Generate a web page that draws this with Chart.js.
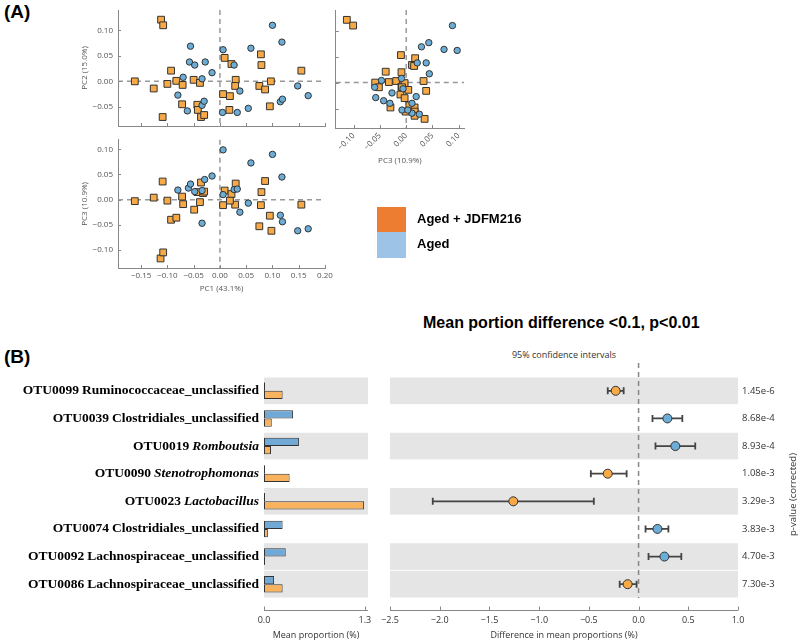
<!DOCTYPE html>
<html>
<head>
<meta charset="utf-8">
<script src="https://cdn.jsdelivr.net/npm/chart.js@4.4.0/dist/chart.umd.min.js"></script>
<style>
  body { margin: 0; width: 799px; height: 643px; position: relative; background: #fff; overflow: hidden; }
  canvas { position: absolute; }
  .txt { position: absolute; white-space: nowrap; color: #000; }
  .box { position: absolute; width: 29px; }
</style>
</head>
<body>
<div class="txt" style="left:4px;top:1px;font:bold 19px 'Liberation Sans',Arial,sans-serif;">(A)</div>
<div class="txt" style="left:4px;top:346px;font:bold 19px 'Liberation Sans',Arial,sans-serif;">(B)</div>

<canvas id="pc12" width="275" height="140" style="left:70px;top:0px"></canvas>
<canvas id="pc32" width="140" height="170" style="left:330px;top:0px"></canvas>
<canvas id="pc13" width="275" height="170" style="left:70px;top:130px"></canvas>

<div class="box" style="left:377px;top:207px;height:25px;background:#ED7D31"></div>
<div class="box" style="left:377px;top:232px;height:26px;background:#9DC3E6"></div>
<div class="txt" style="left:417px;top:211px;font:bold 13px 'Liberation Sans',Arial,sans-serif;">Aged + JDFM216</div>
<div class="txt" style="left:417px;top:236px;font:bold 13px 'Liberation Sans',Arial,sans-serif;">Aged</div>

<div class="txt" style="left:423px;top:313px;font:bold 16px/20px 'Liberation Sans',Arial,sans-serif;">Mean portion difference &lt;0.1, p&lt;0.01</div>
<div class="txt" style="left:414px;width:300px;text-align:center;top:349px;font:9px/12px 'Open Sans',sans-serif;color:#333;">95% confidence intervals</div>

<canvas id="bars" width="375" height="278" style="left:0px;top:365px"></canvas>
<canvas id="diff" width="429" height="303" style="left:370px;top:340px"></canvas>

<script>
// ---- panel A: PCoA coordinates, [x, y] per sample ----
const groups = ['Aged + JDFM216', 'Aged'];

const pc1pc2Treated = [
  [-0.162, 0.000], [-0.126, -0.014], [-0.100, -0.005], [-0.109, -0.070], [-0.112, 0.121],
  [-0.108, 0.110], [-0.093, 0.021], [-0.083, 0.001], [-0.072, -0.045], [-0.071, -0.007],
  [-0.050, 0.003], [-0.043, -0.046], [-0.042, -0.056], [-0.038, -0.003], [-0.036, -0.070],
  [-0.030, -0.066], [0.009, 0.046], [0.022, 0.034], [0.030, 0.003], [0.029, -0.009],
  [0.006, -0.025], [0.019, -0.029], [0.018, -0.056], [0.078, 0.053], [0.079, 0.032],
  [0.075, -0.009], [0.086, -0.016], [0.097, 0.000], [0.095, -0.049], [0.155, 0.021]
];
const pc1pc2Aged = [
  [-0.056, 0.069], [-0.058, 0.038], [-0.048, 0.032], [-0.028, 0.038], [-0.015, 0.017],
  [-0.070, 0.008], [-0.034, 0.005], [-0.080, -0.027], [-0.062, -0.058], [-0.034, -0.047],
  [-0.030, -0.039], [0.006, 0.062], [0.027, 0.032], [0.038, -0.019], [0.005, -0.061],
  [0.033, -0.061], [0.054, -0.053], [0.059, 0.065], [0.100, 0.110], [0.118, 0.077],
  [0.115, -0.040], [0.119, -0.035], [0.148, -0.009], [0.168, -0.028]
];

const pc3pc2Treated = [
  [-0.113, 0.121], [-0.101, 0.110], [-0.010, 0.053], [0.017, 0.047], [0.011, 0.034],
  [0.015, 0.032], [-0.039, 0.021], [-0.009, 0.020], [-0.059, 0.000], [-0.052, -0.009],
  [-0.033, 0.001], [-0.019, 0.003], [-0.009, -0.008], [-0.003, -0.001], [0.004, -0.014],
  [-0.011, -0.023], [-0.003, -0.030], [0.033, 0.003], [0.038, -0.016], [-0.030, -0.048],
  [0.006, -0.044], [0.016, -0.048], [0.016, -0.056], [0.016, -0.064], [-0.001, -0.056],
  [0.035, -0.070], [-0.008, -0.009]
];
const pc3pc2Aged = [
  [0.088, 0.110], [0.029, 0.069], [0.043, 0.077], [0.072, 0.064], [0.097, 0.062],
  [0.021, 0.038], [0.038, 0.038], [0.044, 0.017], [-0.047, 0.004], [-0.060, -0.009],
  [-0.009, 0.008], [-0.027, -0.020], [0.019, -0.027], [-0.058, -0.029], [-0.043, -0.035],
  [-0.031, -0.040], [-0.008, -0.053], [0.011, -0.040], [0.011, -0.059], [0.025, -0.061],
  [0.003, -0.053], [-0.006, -0.012]
];

const pc1pc3Treated = [
  [-0.162, -0.003], [-0.126, 0.004], [-0.100, -0.002], [-0.109, 0.036], [-0.113, -0.117],
  [-0.108, -0.105], [-0.093, -0.040], [-0.083, -0.036], [-0.072, 0.006], [-0.070, -0.009],
  [-0.049, -0.020], [-0.043, 0.015], [-0.032, 0.013], [-0.038, -0.005], [-0.036, 0.034],
  [-0.030, 0.016], [0.009, 0.018], [0.022, 0.011], [0.030, 0.032], [0.029, -0.010],
  [0.006, -0.011], [0.019, -0.002], [0.078, -0.011], [0.079, 0.015], [0.075, -0.053],
  [0.086, 0.037], [0.098, -0.062], [0.095, -0.032], [0.155, -0.010]
];
const pc1pc3Aged = [
  [-0.080, 0.019], [-0.060, 0.023], [-0.056, 0.031], [-0.048, 0.016], [-0.029, 0.040],
  [-0.015, 0.047], [-0.034, 0.018], [-0.034, -0.047], [0.006, 0.099], [0.006, 0.010],
  [0.027, 0.020], [0.033, 0.021], [0.038, -0.025], [0.054, -0.007], [0.059, 0.073],
  [0.100, 0.090], [0.118, 0.045], [0.115, -0.031], [0.119, -0.044], [0.148, -0.062],
  [0.168, -0.058]
];

// ---- panel B: extended error bar plot ----
const otuIds = ['OTU0099', 'OTU0039', 'OTU0019', 'OTU0090', 'OTU0023', 'OTU0074', 'OTU0092', 'OTU0086'];
const taxa = ['Ruminococcaceae_unclassified', 'Clostridiales_unclassified', 'Romboutsia', 'Stenotrophomonas',
  'Lactobacillus', 'Clostridiales_unclassified', 'Lachnospiraceae_unclassified', 'Lachnospiraceae_unclassified'];
const isGenus = [false, false, true, true, true, false, false, false];
const meanAged = [0, 0.375, 0.45, 0, 0, 0.24, 0.28, 0.13];
const meanTreated = [0.24, 0.10, 0.09, 0.33, 1.29, 0.05, 0, 0.24];
const diffMean = [-0.23, 0.29, 0.37, -0.31, -1.26, 0.19, 0.26, -0.11];
const ciLow = [-0.31, 0.14, 0.17, -0.48, -2.07, 0.07, 0.10, -0.19];
const ciHigh = [-0.15, 0.44, 0.57, -0.12, -0.45, 0.30, 0.43, -0.02];
const pValues = ['1.45e-6', '8.68e-4', '8.93e-4', '1.08e-3', '3.29e-3', '3.83e-3', '4.70e-3', '7.30e-3'];
const shadedRows = [true, false, true, false, true, false, true, true];
const barTicks = [0, 1.3];

// colours
const ORANGE_PT = '#f6a945';
const BLUE_PT = '#6badd6';
const ORANGE_BAR = '#f9b25e';
const BLUE_BAR = '#70a8d6';
const SMALL_FONT = { family: "'Open Sans', sans-serif", size: 8 };
const B_FONT = { family: "'Open Sans', sans-serif", size: 9 };

const minus = s => s.replace('-', '\u2212');
const fmt2 = v => Math.abs(v) < 1e-9 ? '0.00' : minus(v.toFixed(2));
const toPts = pairs => pairs.map(([x, y]) => ({ x, y }));

// keep the x axis from widening the chart area for its end labels
const noSidePad = s => { s.paddingLeft = 0; s.paddingRight = 0; };

// dashed zero lines + inward tick marks for the PCoA panels
const pcoaGuides = {
  id: 'pcoaGuides',
  beforeDatasetsDraw(chart) {
    const { ctx, chartArea: a, scales: { x, y } } = chart;
    const x0 = x.getPixelForValue(0), y0 = y.getPixelForValue(0);
    ctx.save();
    ctx.strokeStyle = '#999';
    ctx.lineWidth = 1.5;
    ctx.setLineDash([5, 4]);
    ctx.beginPath();
    ctx.moveTo(x0, a.top); ctx.lineTo(x0, a.bottom);
    ctx.moveTo(a.left, y0); ctx.lineTo(a.right, y0);
    ctx.stroke();
    ctx.setLineDash([]);
    ctx.lineWidth = 1;
    ctx.strokeStyle = '#888';
    ctx.beginPath();
    x.ticks.forEach(t => {
      const px = Math.round(x.getPixelForValue(t.value)) + 0.5;
      ctx.moveTo(px, a.bottom); ctx.lineTo(px, a.bottom - 3);
    });
    y.ticks.forEach(t => {
      const py = Math.round(y.getPixelForValue(t.value)) + 0.5;
      ctx.moveTo(a.left, py); ctx.lineTo(a.left + 3, py);
    });
    ctx.stroke();
    ctx.restore();
  }
};

function pcoaChart(id, treated, aged, c) {
  const axis = (min, max, showTicks, title, size, isX) => ({
    min, max,
    afterFit: s => { if (isX) { s.height = size; noSidePad(s); } else s.width = size; },
    grid: { display: false, drawTicks: false },
    border: { color: '#888' },
    ticks: {
      display: showTicks, stepSize: 0.05, includeBounds: false, font: SMALL_FONT, color: '#555',
      padding: isX ? 3 : 5, autoSkip: false,
      maxRotation: isX && c.rotate ? 45 : 0, minRotation: isX && c.rotate ? 45 : 0,
      callback: v => fmt2(v)
    },
    title: {
      display: !!title, text: title, font: SMALL_FONT, color: '#555',
      padding: isX ? { top: 0, bottom: c.xTitlePad || 0 } : { top: 10, bottom: 0 }
    }
  });
  new Chart(document.getElementById(id), {
    type: 'scatter',
    data: {
      datasets: [
        { label: groups[1], data: toPts(aged), pointStyle: 'circle', pointRadius: 3.2,
          backgroundColor: BLUE_PT, borderColor: '#333', borderWidth: 1 },
        { label: groups[0], data: toPts(treated), pointStyle: 'rect', pointRadius: 4.8,
          backgroundColor: ORANGE_PT, borderColor: '#333', borderWidth: 1 }
      ]
    },
    options: {
      responsive: false,
      animation: false,
      layout: { padding: c.padding },
      plugins: { legend: { display: false }, tooltip: { enabled: false } },
      scales: {
        x: axis(c.x[0], c.x[1], c.xTicks, c.xTitle, c.xSize, true),
        y: axis(c.y[0], c.y[1], c.yTicks, c.yTitle, c.ySize, false)
      }
    },
    plugins: [pcoaGuides]
  });
}

pcoaChart('pc12', pc1pc2Treated, pc1pc2Aged, {
  x: [-0.194, 0.20], y: [-0.0876, 0.14], xTicks: false, yTicks: true,
  yTitle: 'PC2 (15.0%)', xSize: 14, ySize: 48, padding: { top: 10, right: 20 }
});
pcoaChart('pc32', pc3pc2Treated, pc3pc2Aged, {
  x: [-0.134, 0.11], y: [-0.0876, 0.14], xTicks: true, yTicks: false, rotate: true,
  xTitle: 'PC3 (10.9%)', xTitlePad: 4, xSize: 42, ySize: 5, padding: { top: 10, right: 6 }
});
pcoaChart('pc13', pc1pc3Treated, pc1pc3Aged, {
  x: [-0.194, 0.20], y: [-0.136, 0.119], xTicks: true, yTicks: true,
  xTitle: 'PC1 (43.1%)', xTitlePad: 6, yTitle: 'PC3 (10.9%)', xSize: 32, ySize: 48,
  padding: { top: 7, right: 20 }
});

// ---- panel B plugins ----
const rowBands = {
  id: 'rowBands',
  beforeDatasetsDraw(chart) {
    const { ctx, chartArea: a, scales: { y } } = chart;
    const step = (a.bottom - a.top) / otuIds.length;
    ctx.save();
    ctx.fillStyle = '#e5e5e5';
    shadedRows.forEach((on, i) => {
      if (!on) return;
      const c = y.getPixelForValue(i);
      ctx.fillRect(a.left, c - step / 2 + 0.5, a.right - a.left, step - 1);
    });
    ctx.restore();
  }
};

const offsetAxis = {
  id: 'offsetAxis',
  afterDraw(chart) {
    const { ctx, chartArea: a, scales: { x } } = chart;
    const yy = Math.round(a.bottom + 12) + 0.5;
    ctx.save();
    ctx.strokeStyle = '#888';
    ctx.lineWidth = 1;
    ctx.beginPath();
    ctx.moveTo(a.left, yy); ctx.lineTo(a.right, yy);
    x.ticks.forEach(t => {
      const px = Math.round(x.getPixelForValue(t.value)) + 0.5;
      ctx.moveTo(px, yy); ctx.lineTo(px, yy - 4);
    });
    ctx.stroke();
    ctx.restore();
  }
};

// row labels (genus names in italics) and the base line of empty bars
const otuLabels = {
  id: 'otuLabels',
  afterDraw(chart) {
    const { ctx, chartArea: a, scales: { y } } = chart;
    const right = a.left - 5;
    ctx.save();
    ctx.strokeStyle = '#333';
    ctx.lineWidth = 1;
    ctx.beginPath();
    chart.data.datasets.forEach((ds, d) => {
      chart.getDatasetMeta(d).data.forEach((el, i) => {
        if (ds.data[i] !== 0) return;
        const { base, y: cy, height } = el.getProps(['base', 'y', 'height'], true);
        ctx.moveTo(Math.round(base) + 0.5, cy - height / 2);
        ctx.lineTo(Math.round(base) + 0.5, cy + height / 2);
      });
    });
    ctx.stroke();
    ctx.fillStyle = '#000';
    ctx.textBaseline = 'middle';
    ctx.textAlign = 'left';
    otuIds.forEach((id, i) => {
      const py = y.getPixelForValue(i);
      ctx.font = (isGenus[i] ? 'italic ' : '') + "bold 13.5px 'Liberation Serif', 'Times New Roman', serif";
      const nw = ctx.measureText(taxa[i]).width;
      ctx.fillText(taxa[i], right - nw, py);
      ctx.font = "bold 13.5px 'Liberation Serif', 'Times New Roman', serif";
      const iw = ctx.measureText(id).width;
      ctx.fillText(id, right - nw - 3 - iw, py);
    });
    ctx.restore();
  }
};

const ciBars = {
  id: 'ciBars',
  beforeDatasetsDraw(chart) {
    const { ctx, chartArea: a, scales: { x, y } } = chart;
    const x0 = x.getPixelForValue(0);
    ctx.save();
    ctx.strokeStyle = '#888';
    ctx.lineWidth = 1.5;
    ctx.setLineDash([5, 4]);
    ctx.beginPath();
    ctx.moveTo(x0, a.top - 14); ctx.lineTo(x0, a.bottom);
    ctx.stroke();
    ctx.setLineDash([]);
    ctx.strokeStyle = '#444';
    ctx.lineWidth = 1.8;
    ctx.beginPath();
    otuIds.forEach((id, i) => {
      const py = y.getPixelForValue(i);
      const lo = x.getPixelForValue(ciLow[i]), hi = x.getPixelForValue(ciHigh[i]);
      ctx.moveTo(lo, py); ctx.lineTo(hi, py);
      ctx.moveTo(lo, py - 3.5); ctx.lineTo(lo, py + 3.5);
      ctx.moveTo(hi, py - 3.5); ctx.lineTo(hi, py + 3.5);
    });
    ctx.stroke();
    ctx.restore();
  }
};

const pLabels = {
  id: 'pLabels',
  afterDraw(chart) {
    const { ctx, chartArea: a, scales: { y } } = chart;
    ctx.save();
    ctx.fillStyle = '#333';
    ctx.font = "9.5px 'Open Sans', sans-serif";
    ctx.textBaseline = 'middle';
    ctx.textAlign = 'left';
    pValues.forEach((p, i) => ctx.fillText(p, a.right + 4, y.getPixelForValue(i)));
    ctx.translate(a.right + 55, (a.top + a.bottom) / 2 + 7);
    ctx.rotate(-Math.PI / 2);
    ctx.textAlign = 'center';
    ctx.fillText('p-value (corrected)', 0, 0);
    ctx.restore();
  }
};

new Chart(document.getElementById('bars'), {
  type: 'bar',
  data: {
    labels: otuIds,
    datasets: [
      { label: groups[1], data: meanAged, backgroundColor: BLUE_BAR, borderColor: '#333',
        borderWidth: 1, borderSkipped: false },
      { label: groups[0], data: meanTreated, backgroundColor: ORANGE_BAR, borderColor: '#333',
        borderWidth: 1, borderSkipped: false }
    ]
  },
  options: {
    indexAxis: 'y',
    responsive: false,
    animation: false,
    categoryPercentage: 0.6,
    barPercentage: 1,
    layout: { padding: { left: 264, top: 12, right: 7, bottom: 0 } },
    plugins: { legend: { display: false }, tooltip: { enabled: false } },
    scales: {
      y: { display: false, offset: true },
      x: {
        min: 0, max: 1.34,
        afterBuildTicks: s => { s.ticks = barTicks.map(v => ({ value: v })); },
        afterFit: s => { s.height = 45; noSidePad(s); },
        grid: { display: false, drawTicks: false },
        border: { display: false },
        ticks: { padding: 17, font: B_FONT, color: '#333', callback: v => v.toFixed(1) },
        title: { display: true, text: 'Mean proportion (%)', font: B_FONT, color: '#333',
          padding: { top: 0, bottom: 2 } }
      }
    }
  },
  plugins: [rowBands, offsetAxis, otuLabels]
});

new Chart(document.getElementById('diff'), {
  type: 'scatter',
  data: {
    datasets: [{
      data: diffMean.map((d, i) => ({ x: d, y: otuIds[i] })),
      pointRadius: 4.5,
      pointBackgroundColor: diffMean.map(d => d < 0 ? ORANGE_PT : BLUE_PT),
      pointBorderColor: '#333',
      pointBorderWidth: 1
    }]
  },
  options: {
    responsive: false,
    animation: false,
    layout: { padding: { left: 20, top: 37, right: 61, bottom: 0 } },
    plugins: { legend: { display: false }, tooltip: { enabled: false } },
    scales: {
      y: { type: 'category', labels: otuIds, offset: true, display: false },
      x: {
        min: -2.5, max: 1,
        afterFit: s => { s.height = 45; noSidePad(s); },
        grid: { display: false, drawTicks: false },
        border: { display: false },
        ticks: { stepSize: 0.5, padding: 17, font: B_FONT, color: '#333',
          callback: v => Math.abs(v) < 1e-9 ? '0.0' : minus(v.toFixed(1)) },
        title: { display: true, text: 'Difference in mean proportions (%)', font: B_FONT, color: '#333',
          padding: { top: 0, bottom: 2 } }
      }
    }
  },
  plugins: [rowBands, ciBars, offsetAxis, pLabels]
});
</script>
</body>
</html>
